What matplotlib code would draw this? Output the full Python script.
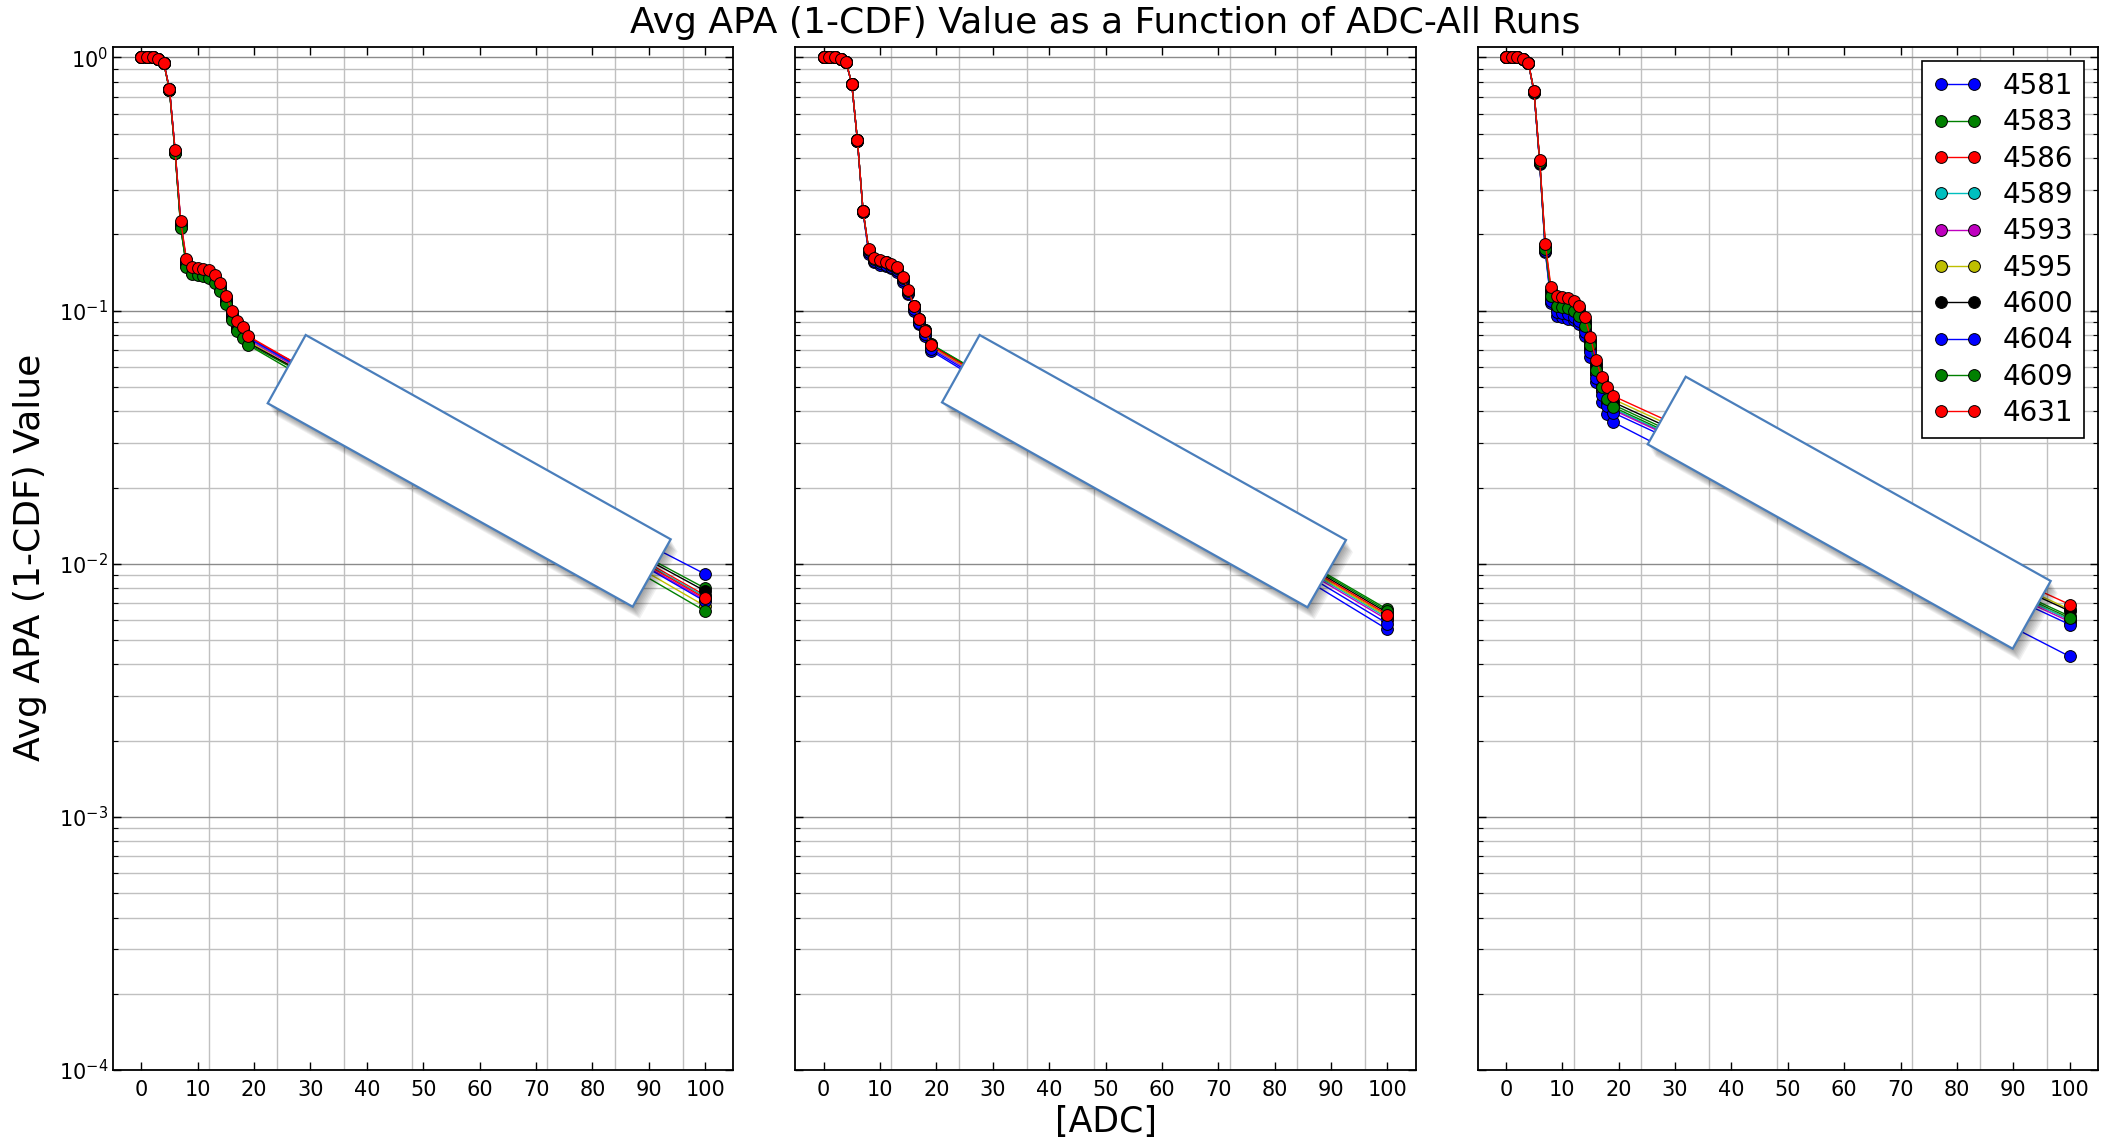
import matplotlib
matplotlib.use("Agg")
import matplotlib.pyplot as plt
from matplotlib.patches import Polygon
from matplotlib.ticker import FixedLocator, LogLocator, NullFormatter

# ── Data ──────────────────────────────────────────────────────────────────
runs = ["4581", "4583", "4586", "4589", "4593", "4595", "4600", "4604", "4609", "4631"]
run_colors = ["b", "g", "r", "c", "m", "y", "k", "b", "g", "r"]

adc = [0, 1, 2, 3, 4, 5, 6, 7, 8, 9, 10, 11, 12, 13, 14, 15, 16, 17, 18, 19, 100]

# panel 1
p1_4581 = [1.0, 1.0, 1.0, 0.99, 0.95, 0.748, 0.426, 0.219, 0.156, 0.146, 0.144, 0.143, 0.141, 0.135, 0.126, 0.112, 0.098, 0.089, 0.084, 0.0775, 0.0091]
p1_4583 = [1.0, 1.0, 1.0, 0.99, 0.948, 0.742, 0.419, 0.214, 0.151, 0.141, 0.139, 0.138, 0.136, 0.130, 0.121, 0.107, 0.093, 0.084, 0.079, 0.0735, 0.0080]
p1_4586 = [1.0, 1.0, 1.0, 0.99, 0.95, 0.749, 0.428, 0.222, 0.158, 0.147, 0.145, 0.144, 0.142, 0.136, 0.127, 0.113, 0.099, 0.090, 0.085, 0.0785, 0.0075]
p1_4589 = [1.0, 1.0, 1.0, 0.99, 0.95, 0.747, 0.425, 0.219, 0.155, 0.145, 0.143, 0.142, 0.140, 0.134, 0.125, 0.111, 0.097, 0.088, 0.083, 0.0770, 0.0074]
p1_4593 = [1.0, 1.0, 1.0, 0.99, 0.95, 0.746, 0.424, 0.218, 0.154, 0.144, 0.142, 0.141, 0.139, 0.133, 0.124, 0.110, 0.096, 0.087, 0.082, 0.0765, 0.0072]
p1_4595 = [1.0, 1.0, 1.0, 0.99, 0.949, 0.745, 0.422, 0.216, 0.153, 0.143, 0.141, 0.140, 0.138, 0.132, 0.123, 0.109, 0.095, 0.086, 0.081, 0.0755, 0.0068]
p1_4600 = [1.0, 1.0, 1.0, 0.99, 0.949, 0.744, 0.420, 0.213, 0.150, 0.141, 0.139, 0.138, 0.136, 0.131, 0.122, 0.108, 0.094, 0.085, 0.080, 0.0745, 0.0078]
p1_4604 = [1.0, 1.0, 1.0, 0.99, 0.95, 0.748, 0.427, 0.220, 0.156, 0.146, 0.144, 0.143, 0.141, 0.135, 0.126, 0.112, 0.098, 0.089, 0.084, 0.0780, 0.0071]
p1_4609 = [1.0, 1.0, 1.0, 0.99, 0.948, 0.741, 0.418, 0.212, 0.149, 0.140, 0.138, 0.137, 0.135, 0.129, 0.120, 0.106, 0.092, 0.083, 0.078, 0.0730, 0.0065]
p1_4631 = [1.0, 1.0, 1.0, 0.99, 0.95, 0.75, 0.43, 0.225, 0.160, 0.149, 0.147, 0.146, 0.144, 0.138, 0.129, 0.1146, 0.100, 0.0908, 0.0859, 0.0792, 0.0073]

# panel 2
p2_4581 = [1.0, 1.0, 1.0, 0.99, 0.955, 0.785, 0.468, 0.245, 0.168, 0.155, 0.152, 0.150, 0.147, 0.142, 0.130, 0.116, 0.100, 0.0885, 0.0795, 0.0695, 0.0055]
p2_4583 = [1.0, 1.0, 1.0, 0.99, 0.956, 0.787, 0.470, 0.247, 0.173, 0.159, 0.156, 0.154, 0.151, 0.146, 0.134, 0.1195, 0.1035, 0.0925, 0.0835, 0.0735, 0.0066]
p2_4586 = [1.0, 1.0, 1.0, 0.99, 0.956, 0.787, 0.470, 0.247, 0.173, 0.160, 0.157, 0.155, 0.152, 0.147, 0.135, 0.120, 0.104, 0.092, 0.083, 0.0725, 0.0062]
p2_4589 = [1.0, 1.0, 1.0, 0.99, 0.956, 0.786, 0.469, 0.246, 0.172, 0.159, 0.156, 0.154, 0.151, 0.146, 0.134, 0.119, 0.103, 0.091, 0.082, 0.0720, 0.0061]
p2_4593 = [1.0, 1.0, 1.0, 0.99, 0.956, 0.786, 0.469, 0.246, 0.171, 0.158, 0.155, 0.153, 0.150, 0.145, 0.133, 0.118, 0.102, 0.090, 0.081, 0.0715, 0.0060]
p2_4595 = [1.0, 1.0, 1.0, 0.99, 0.956, 0.787, 0.470, 0.247, 0.172, 0.159, 0.156, 0.154, 0.151, 0.146, 0.134, 0.119, 0.103, 0.091, 0.082, 0.0722, 0.0062]
p2_4600 = [1.0, 1.0, 1.0, 0.99, 0.956, 0.787, 0.470, 0.247, 0.174, 0.160, 0.157, 0.155, 0.152, 0.147, 0.135, 0.120, 0.104, 0.0925, 0.0835, 0.0732, 0.0064]
p2_4604 = [1.0, 1.0, 1.0, 0.99, 0.955, 0.786, 0.469, 0.246, 0.170, 0.157, 0.154, 0.152, 0.149, 0.144, 0.132, 0.117, 0.101, 0.0895, 0.0805, 0.0705, 0.0058]
p2_4609 = [1.0, 1.0, 1.0, 0.99, 0.956, 0.787, 0.470, 0.247, 0.174, 0.160, 0.157, 0.155, 0.152, 0.147, 0.135, 0.120, 0.1042, 0.0928, 0.0838, 0.0738, 0.0065]
p2_4631 = [1.0, 1.0, 1.0, 0.99, 0.956, 0.788, 0.471, 0.248, 0.175, 0.161, 0.158, 0.156, 0.153, 0.148, 0.136, 0.121, 0.1047, 0.0927, 0.0834, 0.0728, 0.0063]

# panel 3
p3_4581 = [1.0, 1.0, 1.0, 0.99, 0.95, 0.725, 0.380, 0.170, 0.107, 0.0955, 0.094, 0.093, 0.0914, 0.0887, 0.0797, 0.0655, 0.0522, 0.0435, 0.0392, 0.0363, 0.0043]
p3_4583 = [1.0, 1.0, 1.0, 0.99, 0.95, 0.731, 0.386, 0.176, 0.116, 0.106, 0.105, 0.104, 0.101, 0.0972, 0.0885, 0.0740, 0.0592, 0.0508, 0.0460, 0.0425, 0.0062]
p3_4586 = [1.0, 1.0, 1.0, 0.99, 0.95, 0.729, 0.384, 0.174, 0.112, 0.102, 0.101, 0.100, 0.0970, 0.0935, 0.0850, 0.0710, 0.0565, 0.0485, 0.0438, 0.0408, 0.0060]
p3_4589 = [1.0, 1.0, 1.0, 0.99, 0.95, 0.729, 0.384, 0.174, 0.112, 0.102, 0.101, 0.100, 0.0975, 0.0938, 0.0855, 0.0712, 0.0567, 0.0487, 0.0440, 0.0410, 0.0060]
p3_4593 = [1.0, 1.0, 1.0, 0.99, 0.95, 0.728, 0.383, 0.173, 0.111, 0.101, 0.100, 0.099, 0.0965, 0.0930, 0.0848, 0.0705, 0.0560, 0.0480, 0.0434, 0.0405, 0.0059]
p3_4595 = [1.0, 1.0, 1.0, 0.99, 0.95, 0.734, 0.391, 0.181, 0.121, 0.111, 0.110, 0.109, 0.106, 0.102, 0.0918, 0.0768, 0.0622, 0.0535, 0.0487, 0.0447, 0.0066]
p3_4600 = [1.0, 1.0, 1.0, 0.99, 0.95, 0.733, 0.389, 0.179, 0.119, 0.109, 0.108, 0.107, 0.104, 0.100, 0.0900, 0.0755, 0.0608, 0.0522, 0.0475, 0.0435, 0.0065]
p3_4604 = [1.0, 1.0, 1.0, 0.99, 0.95, 0.727, 0.382, 0.172, 0.109, 0.0985, 0.0975, 0.0965, 0.0945, 0.0910, 0.0825, 0.0685, 0.0540, 0.0462, 0.0418, 0.0395, 0.00575]
p3_4609 = [1.0, 1.0, 1.0, 0.99, 0.95, 0.730, 0.385, 0.175, 0.114, 0.104, 0.103, 0.102, 0.0994, 0.0955, 0.0873, 0.0728, 0.058, 0.0499, 0.0449, 0.0416, 0.0061]
p3_4631 = [1.0, 1.0, 1.0, 0.99, 0.95, 0.735, 0.392, 0.183, 0.1236, 0.114, 0.113, 0.112, 0.1088, 0.1046, 0.094, 0.0785, 0.0636, 0.0547, 0.0499, 0.046, 0.0069]

panels = [
    [p1_4581, p1_4583, p1_4586, p1_4589, p1_4593, p1_4595, p1_4600, p1_4604, p1_4609, p1_4631],
    [p2_4581, p2_4583, p2_4586, p2_4589, p2_4593, p2_4595, p2_4600, p2_4604, p2_4609, p2_4631],
    [p3_4581, p3_4583, p3_4586, p3_4589, p3_4593, p3_4595, p3_4600, p3_4604, p3_4609, p3_4631],
]

x_ticks = [0, 10, 20, 30, 40, 50, 60, 70, 80, 90, 100]
x_grid = [12, 24, 36, 48, 60, 72, 84, 96]

# white boxes pasted over the plot (figure pixels, from top-left)
boxes = [
    [(305.7, 335), (670.7, 539.3), (632.7, 606.7), (267.7, 403.3)],
    [(979.6, 335), (1346.0, 540.0), (1307.5, 607.3), (942.0, 402.4)],
    [(1685.7, 376.7), (2050.7, 581), (2012.7, 648.7), (1647.7, 444.3)],
]

# ── Figure ────────────────────────────────────────────────────────────────
plt.rcParams['font.family'] = ['DejaVu Sans']
W, H = 2110, 1145
fig, axes = plt.subplots(1, 3, sharey=True, figsize=(W / 100, H / 100), dpi=100)
fig.subplots_adjust(left=0.0536, right=0.9943, bottom=0.0655, top=0.959, wspace=0.1)

for ax, series in zip(axes, panels):
    for vals, run, col in zip(series, runs, run_colors):
        ax.plot(adc, vals, '-o', color=col, lw=1.0, ms=8.5, mec='k', mew=0.7, label=run)

    ax.set_yscale('log')
    ax.set_ylim(1e-4, 1.1)
    ax.set_xlim(-5, 105)
    ax.set_xticks(x_ticks)
    ax.xaxis.set_minor_locator(FixedLocator(x_grid))
    ax.yaxis.set_major_locator(LogLocator(base=10, numticks=10))
    ax.yaxis.set_minor_locator(LogLocator(base=10, subs=range(2, 10), numticks=20))
    ax.yaxis.set_minor_formatter(NullFormatter())

    ax.set_axisbelow(True)
    ax.yaxis.grid(True, which='major', color='#8a8a8a', lw=1.0)
    ax.yaxis.grid(True, which='minor', color='#c0c0c0', lw=1.0)
    ax.xaxis.grid(True, which='minor', color='#c0c0c0', lw=1.0)
    ax.xaxis.grid(False, which='major')

    ax.tick_params(which='both', direction='in', top=True, right=True, labelsize=15)
    ax.tick_params(axis='both', which='major', length=6, width=1)
    ax.tick_params(axis='y', which='minor', length=3.5, width=0.8)
    ax.tick_params(axis='x', which='minor', length=0)
    ax.tick_params(axis='x', pad=7)
    for sp in ax.spines.values():
        sp.set_linewidth(1.3)

axes[1].set_xlabel('[ADC]', fontsize=25, labelpad=4)
fig.text(0.014, 0.513, 'Avg APA (1-CDF) Value', rotation=90, fontsize=26,
         ha='center', va='center')
fig.suptitle('Avg APA (1-CDF) Value as a Function of ADC-All Runs', fontsize=26,
             x=0.5237, y=0.995)

leg = axes[2].legend(loc='upper right', fontsize=20, numpoints=2, handlelength=1.8,
                     handletextpad=0.7, labelspacing=0.3, borderpad=0.4,
                     borderaxespad=0.5, fancybox=False, framealpha=1)
leg.get_frame().set_edgecolor('k')
leg.get_frame().set_linewidth(1.2)

# white boxes with a soft shadow
for pts in boxes:
    frac = [(px / W, 1 - py / H) for px, py in pts]
    for k in range(1, 9):
        sh = [(px + k * 0.9, py + k * 1.5) for px, py in pts]
        fig.add_artist(Polygon([(px / W, 1 - py / H) for px, py in sh], closed=True,
                               transform=fig.transFigure, facecolor='#000000',
                               edgecolor='none', alpha=0.055, zorder=5))
    fig.add_artist(Polygon(frac, closed=True, transform=fig.transFigure,
                           facecolor='white', edgecolor='#4a7ebb', lw=1.6, zorder=6))

fig.savefig('out.png', dpi=100)
